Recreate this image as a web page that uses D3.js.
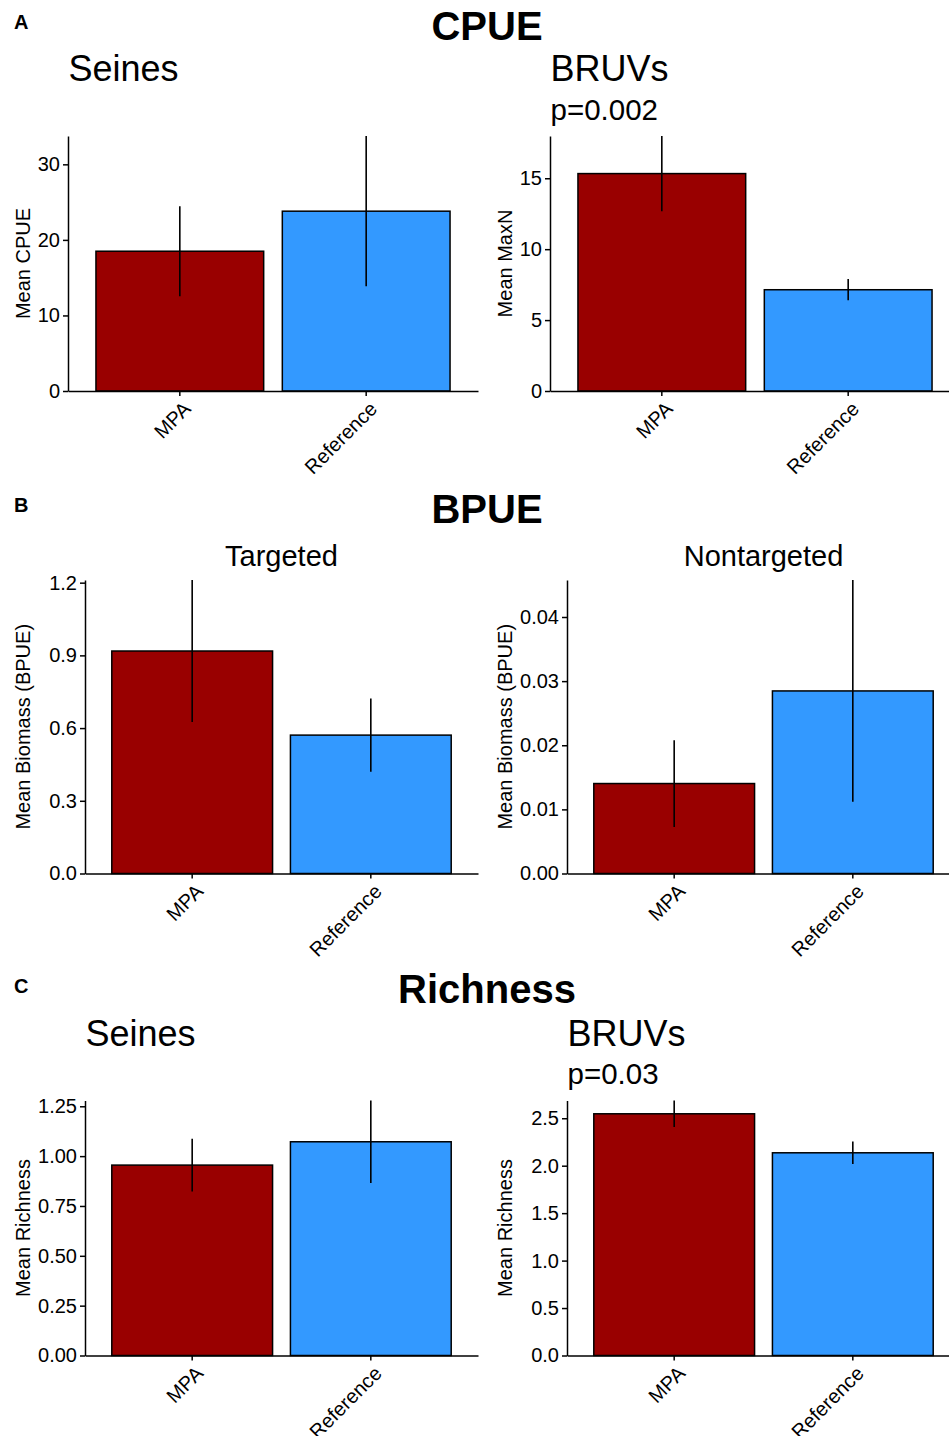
<!DOCTYPE html>
<html>
<head>
<meta charset="utf-8">
<script src="https://cdn.jsdelivr.net/npm/d3@7/dist/d3.min.js"></script>
<style>
  html, body { margin: 0; padding: 0; background: #fff; }
  svg { display: block; font-family: "Liberation Sans", Arial, Helvetica, sans-serif; }
</style>
</head>
<body>
<svg id="chart" width="949" height="1436"></svg>
<script>
// ---- Data ----
const groups = ["MPA", "Reference"];
const groupColors = ["#990000", "#3399FF"];

const cpueSeinesMean = [18.5, 23.8];
const cpueSeinesSE = [5.95, 9.95];
const cpueBruvsMean = [15.33, 7.14];
const cpueBruvsSE = [2.65, 0.75];

const bpueTargetedMean = [0.918, 0.571];
const bpueTargetedSE = [0.293, 0.151];
const bpueNontargetedMean = [0.01403, 0.02847];
const bpueNontargetedSE = [0.00676, 0.0173];

const richSeinesMean = [0.955, 1.072];
const richSeinesSE = [0.132, 0.207];
const richBruvsMean = [2.547, 2.136];
const richBruvsSE = [0.14, 0.119];

const ticksCpueSeines = [0, 10, 20, 30];
const ticksCpueBruvs = [0, 5, 10, 15];
const ticksBpueTargeted = [0, 0.3, 0.6, 0.9, 1.2];
const ticksBpueNontargeted = [0, 0.01, 0.02, 0.03, 0.04];
const ticksRichSeines = [0, 0.25, 0.5, 0.75, 1.0, 1.25];
const ticksRichBruvs = [0, 0.5, 1.0, 1.5, 2.0, 2.5];

const sectionTitles = ["CPUE", "BPUE", "Richness"];
const sectionLetters = ["A", "B", "C"];

// ---- Layout ----
const svg = d3.select("#chart");
const FONT = 20;

const panels = [
  { mean: cpueSeinesMean, se: cpueSeinesSE, ticks: ticksCpueSeines, fmt: d3.format("d"),
    yLabel: "Mean CPUE", x0: 68, x1: 478, top: 136, base: 391, titleX: 29.5,
    sub: "Seines", subMode: "left", subY: 80.7 },
  { mean: cpueBruvsMean, se: cpueBruvsSE, ticks: ticksCpueBruvs, fmt: d3.format("d"),
    yLabel: "Mean MaxN", x0: 550, x1: 960, top: 136, base: 391, titleX: 511.5,
    sub: "BRUVs", subMode: "left", subY: 80.7, p: "p=0.002", pY: 120 },
  { mean: bpueTargetedMean, se: bpueTargetedSE, ticks: ticksBpueTargeted, fmt: d3.format(".1f"),
    yLabel: "Mean Biomass (BPUE)", x0: 85, x1: 478, top: 580, base: 873.5, titleX: 29.5,
    sub: "Targeted", subMode: "center", subY: 566 },
  { mean: bpueNontargetedMean, se: bpueNontargetedSE, ticks: ticksBpueNontargeted, fmt: d3.format(".2f"),
    yLabel: "Mean Biomass (BPUE)", x0: 567, x1: 960, top: 580, base: 873.5, titleX: 511.5,
    sub: "Nontargeted", subMode: "center", subY: 566 },
  { mean: richSeinesMean, se: richSeinesSE, ticks: ticksRichSeines, fmt: d3.format(".2f"),
    yLabel: "Mean Richness", x0: 85, x1: 478, top: 1100.5, base: 1355.5, titleX: 29.5,
    sub: "Seines", subMode: "left", subY: 1046 },
  { mean: richBruvsMean, se: richBruvsSE, ticks: ticksRichBruvs, fmt: d3.format(".1f"),
    yLabel: "Mean Richness", x0: 567, x1: 960, top: 1100.5, base: 1355.5, titleX: 511.5,
    sub: "BRUVs", subMode: "left", subY: 1046, p: "p=0.03", pY: 1084 }
];

const sectionTitleY = [40, 522.7, 1003.3];
const sectionLetterY = [29.3, 511.7, 993.3];

sectionTitles.forEach((t, i) => {
  svg.append("text").attr("x", 487).attr("y", sectionTitleY[i])
    .attr("text-anchor", "middle").attr("font-size", 40).attr("font-weight", "bold")
    .attr("fill", "#000").text(t);
  svg.append("text").attr("x", 14).attr("y", sectionLetterY[i])
    .attr("font-size", 20).attr("font-weight", "bold").attr("fill", "#000")
    .text(sectionLetters[i]);
});

panels.forEach(p => {
  const data = groups.map((g, i) => ({ g, m: p.mean[i], se: p.se[i], c: groupColors[i] }));
  const x = d3.scaleBand().domain(groups).range([p.x0, p.x1]).paddingInner(0.1).paddingOuter(0.15);
  const yMax = d3.max(data, d => d.m + d.se);
  const y = d3.scaleLinear().domain([0, yMax]).range([p.base, p.top]);
  const g = svg.append("g");

  // bars
  g.selectAll("rect.bar").data(data).join("rect")
    .attr("class", "bar")
    .attr("x", d => x(d.g)).attr("width", x.bandwidth())
    .attr("y", d => y(d.m)).attr("height", d => y(0) - y(d.m))
    .attr("fill", d => d.c).attr("stroke", "#000").attr("stroke-width", 1.5);

  // error bars
  g.selectAll("line.err").data(data).join("line")
    .attr("class", "err")
    .attr("x1", d => x(d.g) + x.bandwidth() / 2).attr("x2", d => x(d.g) + x.bandwidth() / 2)
    .attr("y1", d => y(d.m - d.se)).attr("y2", d => y(d.m + d.se))
    .attr("stroke", "#000").attr("stroke-width", 1.6);

  // y axis
  const ya = g.append("g").attr("transform", `translate(${p.x0},0)`)
    .call(d3.axisLeft(y).tickValues(p.ticks).tickFormat(p.fmt).tickSize(5).tickSizeOuter(0).tickPadding(3));
  ya.select(".domain").attr("stroke", "#000").attr("stroke-width", 1.5);
  ya.selectAll(".tick line").attr("stroke", "#000").attr("stroke-width", 1.5);
  ya.selectAll(".tick text").attr("font-size", FONT).attr("fill", "#000")
    .attr("font-family", "Liberation Sans, Arial, sans-serif");

  // x axis
  const xa = g.append("g").attr("transform", `translate(0,${p.base})`)
    .call(d3.axisBottom(x).tickSize(5).tickSizeOuter(0));
  xa.select(".domain").attr("stroke", "#000").attr("stroke-width", 1.5);
  xa.selectAll(".tick line").attr("stroke", "#000").attr("stroke-width", 1.5);
  xa.selectAll(".tick text")
    .attr("font-size", FONT).attr("fill", "#000")
    .attr("font-family", "Liberation Sans, Arial, sans-serif")
    .attr("text-anchor", "end")
    .attr("y", 0).attr("dy", "0.72em")
    .attr("transform", "translate(2,9) rotate(-45)");

  // y title
  g.append("text")
    .attr("transform", `translate(${p.titleX},${(p.top + p.base) / 2}) rotate(-90)`)
    .attr("text-anchor", "middle").attr("font-size", FONT).attr("fill", "#000")
    .text(p.yLabel);

  // subtitle
  if (p.subMode === "left") {
    g.append("text").attr("x", p.x0 + 0.5).attr("y", p.subY)
      .attr("font-size", 36).attr("fill", "#000").text(p.sub);
  } else {
    g.append("text").attr("x", (p.x0 + p.x1) / 2).attr("y", p.subY)
      .attr("text-anchor", "middle").attr("font-size", 29).attr("fill", "#000").text(p.sub);
  }
  if (p.p) {
    g.append("text").attr("x", p.x0 + 0.5).attr("y", p.pY)
      .attr("font-size", 29.5).attr("fill", "#000").text(p.p);
  }
});
</script>
</body>
</html>
